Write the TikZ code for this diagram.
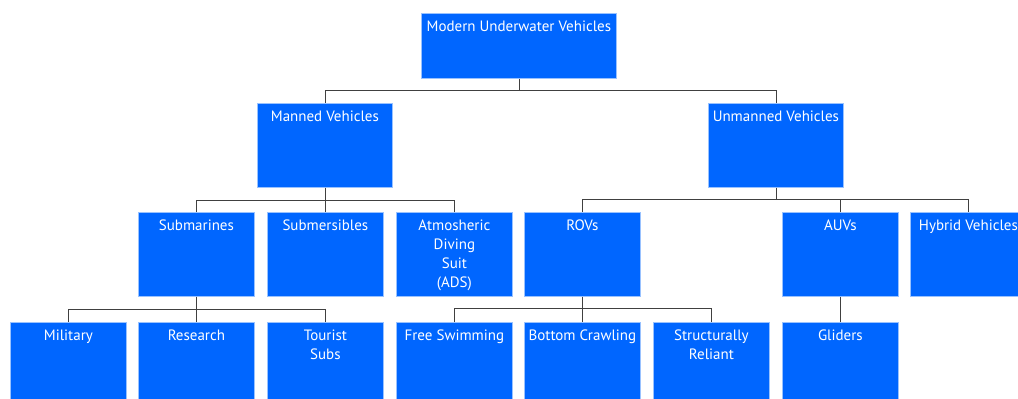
\documentclass[tikz,border=0pt]{standalone}
\usepackage{fontspec}
\setmainfont{PT Sans}
\definecolor{boxblue}{HTML}{0066FF}
\definecolor{boxedge}{HTML}{99C2FF}
\definecolor{linegray}{HTML}{404040}
\begin{document}
\begin{tikzpicture}[x=1pt,y=-1pt]
\tikzstyle{box}=[draw=boxedge,fill=boxblue,line width=0.8pt,anchor=north west,inner sep=0pt,minimum width=116pt,minimum height=84pt]
\tikzstyle{txt}=[anchor=north,inner sep=0pt,yshift=-8pt,text=white,align=center,font=\fontsize{15}{19}\selectfont]
\tikzstyle{conn}=[draw=linegray,line width=0.8pt]
\clip (0,0) rectangle (1018,399);
% top
\node[box,minimum width=195pt,minimum height=65pt,label={[txt]north:Modern Underwater Vehicles}](l00) at (421,13) {};
% manned / unmanned
\node[box,minimum width=135pt,label={[txt]north:Manned Vehicles}](l10) at (257,103) {};
\node[box,minimum width=135pt,label={[txt]north:Unmanned Vehicles}](l11) at (708,103) {};
% types
\node[box,label={[txt]north:Submarines}](l20) at (138,212) {};
\node[box,label={[txt]north:Submersibles}](l21) at (267,212) {};
\node[box,label={[txt]north:Atmosheric\\Diving\\Suit\\(ADS)}](l22) at (396,212) {};
\node[box,label={[txt]north:ROVs}](l23) at (524,212) {};
\node[box,label={[txt]north:AUVs}](l24) at (782,212) {};
\node[box,label={[txt]north:Hybrid Vehicles}](l25) at (910,212) {};
% sub types
\node[box,label={[txt]north:Military}](l30) at (10,322) {};
\node[box,label={[txt]north:Research}](l31) at (138,322) {};
\node[box,label={[txt]north:Tourist\\Subs}](l32) at (267,322) {};
\node[box,label={[txt]north:Free Swimming}](l33) at (396,322) {};
\node[box,label={[txt]north:Bottom Crawling}](l34) at (524,322) {};
\node[box,label={[txt]north:Structurally\\Reliant}](l35) at (653,322) {};
\node[box,label={[txt]north:Gliders}](l36) at (782,322) {};
% connectors
\draw[conn] (l00.south) -- ++(0,12) -| (l10.north);
\draw[conn] (l00.south) -- ++(0,12) -| (l11.north);
\draw[conn] (l10.south) -- ++(0,13) -| (l20.north);
\draw[conn] (l10.south) -- ++(0,13) -| (l21.north);
\draw[conn] (l10.south) -- ++(0,13) -| (l22.north);
\draw[conn] (l11.south) -- ++(0,12) -| (l23.north);
\draw[conn] (l11.south) -- ++(0,12) -| (l24.north);
\draw[conn] (l11.south) -- ++(0,12) -| (l25.north);
\draw[conn] (l20.south) -- ++(0,13) -| (l30.north);
\draw[conn] (l20.south) -- ++(0,13) -| (l31.north);
\draw[conn] (l20.south) -- ++(0,13) -| (l32.north);
\draw[conn] (l23.south) -- ++(0,12) -| (l33.north);
\draw[conn] (l23.south) -- ++(0,12) -| (l34.north);
\draw[conn] (l23.south) -- ++(0,12) -| (l35.north);
\draw[conn] (l24.south) -- (l36.north);
\end{tikzpicture}
\end{document}
